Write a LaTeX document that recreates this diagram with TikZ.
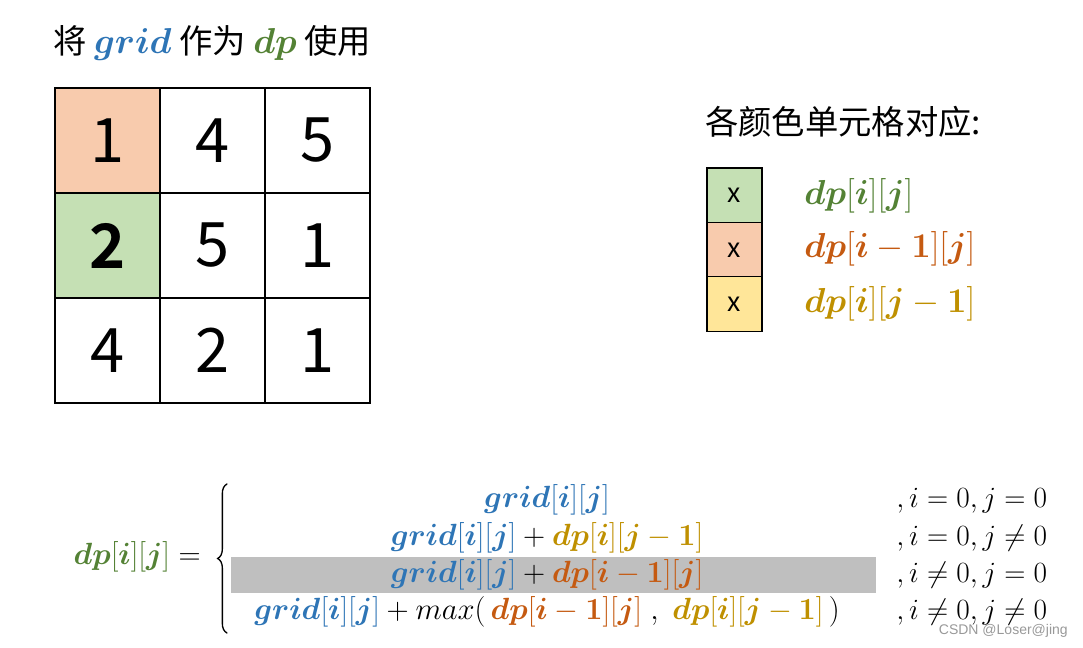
\RequirePackage{fix-cm}
\documentclass[tikz,border=0pt]{standalone}
\usepackage[no-math]{fontspec}
\usepackage{amsmath,bm}
\usetikzlibrary{decorations.pathreplacing}
\newfontfamily\cjk{Noto Sans CJK SC}[BoldFont={Noto Sans CJK SC Bold}]
\definecolor{gridblue}{HTML}{2E75B6}
\definecolor{dpgreen}{HTML}{548235}
\definecolor{dporange}{HTML}{C55A11}
\definecolor{dpgold}{HTML}{BF9000}
\definecolor{fillorange}{HTML}{F8CBAD}
\definecolor{fillgreen}{HTML}{C5E0B4}
\definecolor{fillyellow}{HTML}{FFE699}
\definecolor{barg}{HTML}{BFBFBF}
\newcommand{\gridij}{\textcolor{gridblue}{\bm{grid}[\bm{i}][\bm{j}]}}
\newcommand{\dpij}{\textcolor{dpgreen}{\bm{dp}[\bm{i}][\bm{j}]}}
\newcommand{\dpimj}{\textcolor{dporange}{\bm{dp}[\bm{i}-\mathbf{1}][\bm{j}]}}
\newcommand{\dpijm}{\textcolor{dpgold}{\bm{dp}[\bm{i}][\bm{j}-\mathbf{1}]}}
\tikzset{
  cell/.style={draw=black, line width=1.1pt, minimum width=78.75pt, minimum height=78.75pt, inner sep=0pt, font=\cjk\fontsize{46}{50}\selectfont},
  legbox/.style={draw=black, line width=1.1pt, minimum width=41.25pt, minimum height=40.9pt, inner sep=0pt, font=\cjk\fontsize{20}{24}\selectfont},
  cntext/.style={anchor=west, inner sep=0pt, font=\cjk\fontsize{25}{29}\selectfont},
  mathrow/.style={inner sep=0pt, font=\fontsize{23}{27}\selectfont},
  condrow/.style={anchor=west, inner sep=0pt, font=\fontsize{22}{26}\selectfont},
  leglabel/.style={anchor=west, inner sep=0pt, font=\fontsize{26}{30}\selectfont},
  bracestyle/.style={decorate, decoration={brace, amplitude=7pt, aspect=0.5}, line width=1pt, line cap=round},
}
\begin{document}
\begin{tikzpicture}[x=0.75pt,y=-0.75pt]
\useasboundingbox (0,0) rectangle (1083,648);
\fill[white] (0,0) rectangle (1083,648);
% title
\node[cntext] (title) at (53,43) {将 \textcolor{gridblue}{\fontsize{27}{30}\selectfont$\bm{grid}$} 作为 \textcolor{dpgreen}{\fontsize{27}{30}\selectfont$\bm{dp}$} 使用};
% grid
\node[cell, fill=fillorange] (c00) at (107.5,140.5) {1};
\node[cell] (c01) at (212.5,140.5) {4};
\node[cell] (c02) at (317.5,140.5) {5};
\node[cell, fill=fillgreen] (c10) at (107.5,245.5) {\bfseries 2};
\node[cell] (c11) at (212.5,245.5) {5};
\node[cell] (c12) at (317.5,245.5) {1};
\node[cell] (c20) at (107.5,350.5) {4};
\node[cell] (c21) at (212.5,350.5) {2};
\node[cell] (c22) at (317.5,350.5) {1};
% legend
\node[cntext] (legtitle) at (705,122) {各颜色单元格对应:};
\node[legbox, fill=fillgreen] (lg) at (734.5,195.5) {x};
\node[legbox, fill=fillorange] (lo) at (734.5,250) {x};
\node[legbox, fill=fillyellow] (ly) at (734.5,304) {x};
\node[leglabel] (lgl) at (804,196) {$\vphantom{[]}\dpij$};
\node[leglabel] (lol) at (804,249) {$\vphantom{[]}\dpimj$};
\node[leglabel] (lyl) at (804,304) {$\vphantom{[]}\dpijm$};
% formula
\node[fill=barg, minimum width=483.75pt, minimum height=27pt, inner sep=0pt] (bar) at (553.5,575) {};
\node[mathrow, anchor=east] (lhs) at (201,557) {$\dpij =$};
\coordinate (bracetop) at (227,484);
\coordinate (bracebot) at (227,633);
\draw[bracestyle] (bracebot) -- (bracetop);
\node[mathrow] (r1) at (547,500) {$\gridij$};
\node[mathrow] (r2) at (547,538) {$\gridij + \dpijm$};
\node[mathrow] (r3) at (547,575) {$\gridij + \dpimj$};
\node[mathrow] (r4) at (547,612) {$\gridij + max(\,\dpimj\;,\;\dpijm\,)$};
\node[condrow] (k1) at (896,500) {$\vphantom{[]},i = 0, j = 0$};
\node[condrow] (k2) at (896,538) {$\vphantom{[]},i = 0, j \neq 0$};
\node[condrow] (k3) at (896,575) {$\vphantom{[]},i \neq 0, j = 0$};
\node[condrow] (k4) at (896,612) {$\vphantom{[]},i \neq 0, j \neq 0$};
% watermark
\node[anchor=east, inner sep=0pt, text=black!40, font=\fontspec{Liberation Sans}\fontsize{10.5}{12}\selectfont] (wm) at (1068,631) {CSDN @Loser@jing};
\end{tikzpicture}
\end{document}
